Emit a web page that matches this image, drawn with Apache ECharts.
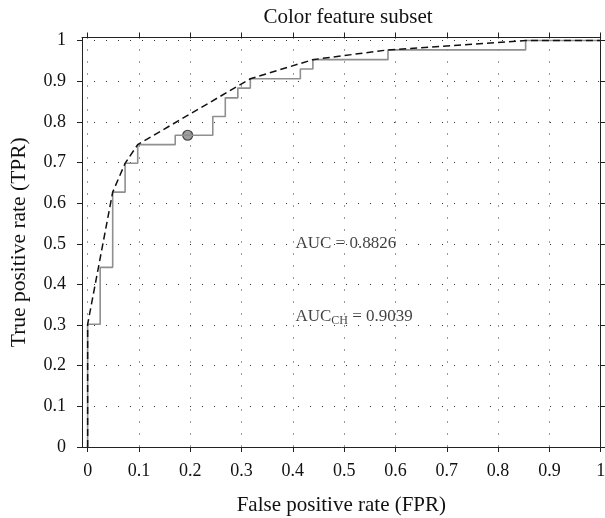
<!DOCTYPE html>
<html>
<head>
<meta charset="utf-8">
<script src="https://cdn.jsdelivr.net/npm/echarts@6/dist/echarts.min.js"></script>
<style>html,body{margin:0;padding:0;background:#fff}#c{width:605px;height:518px}</style>
</head>
<body>
<div id="c"></div>
<script>
// ROC step curve (top corner of each vertical step)
const rocFpr = [0, 0, 0.0244, 0.0488, 0.073, 0.0976, 0.1707, 0.2439, 0.2683, 0.2927, 0.3171, 0.4146, 0.439, 0.5854, 0.8537, 1];
const rocTpr = [0, 0.302, 0.442, 0.627, 0.698, 0.744, 0.767, 0.813, 0.859, 0.883, 0.906, 0.930, 0.953, 0.977, 1, 1];
// Convex hull vertices
const hullFpr = [0, 0, 0.0488, 0.073, 0.0976, 0.3171, 0.439, 0.5854, 0.8537, 1];
const hullTpr = [0, 0.302, 0.627, 0.698, 0.744, 0.906, 0.953, 0.977, 1, 1];
// Operating point
const opPoint = [0.195, 0.767];
// Tick values
const ticks = [0, 0.1, 0.2, 0.3, 0.4, 0.5, 0.6, 0.7, 0.8, 0.9, 1];
// Annotations
const annText = ['AUC = 0.8826', 'AUC_CH = 0.9039'];
const annPos = [[0.405, 0.50], [0.405, 0.322]];

const FONT = 'Liberation Serif';
const fmt = v => (Math.abs(v - 1) < 1e-9 ? '1' : (Math.abs(v) < 1e-9 ? '0' : String(Math.round(v * 10) / 10)));

const chart = echarts.init(document.getElementById('c'), null, {renderer: 'canvas'});

function xAx(pos, show) {
  return {
    type: 'value', position: pos, min: -0.011, max: 1,
    axisLine: {show: true, onZero: false, lineStyle: {color: '#222', width: 1}},
    axisTick: {show: true, inside: false, length: 5, customValues: ticks, lineStyle: {color: '#222'}},
    axisLabel: {show: show, customValues: ticks, formatter: fmt, margin: 15, color: '#111', fontFamily: FONT, fontSize: 18},
    splitLine: {show: show, lineStyle: {color: '#333', type: [1, 11], width: 1}},
    name: show ? 'False positive rate (FPR)' : '', nameLocation: 'middle', nameGap: 48,
    nameTextStyle: {color: '#111', fontFamily: FONT, fontSize: 21}
  };
}
function yAx(pos, show) {
  return {
    type: 'value', position: pos, min: 0, max: 1.0075,
    axisLine: {show: true, onZero: false, lineStyle: {color: '#222', width: 1}},
    axisTick: {show: true, inside: false, length: 5, customValues: ticks, lineStyle: {color: '#222'}},
    axisLabel: {show: show, customValues: ticks, formatter: fmt, margin: 16, color: '#111', fontFamily: FONT, fontSize: 18},
    splitLine: {show: show, lineStyle: {color: '#333', type: [1, 11], width: 1}},
    name: show ? 'True positive rate (TPR)' : '', nameLocation: 'middle', nameGap: 52,
    nameTextStyle: {color: '#111', fontFamily: FONT, fontSize: 21.5}
  };
}

const option = {
  backgroundColor: '#fff',
  animation: false,
  title: {
    text: 'Color feature subset', left: 343, top: 2, textAlign: 'center',
    textStyle: {color: '#111', fontFamily: FONT, fontSize: 21, fontWeight: 'normal'}
  },
  grid: {left: 82, right: 4.3, top: 37.5, bottom: 71, outerBoundsMode: 'none', containLabel: false},
  xAxis: [xAx('bottom', true), xAx('top', false)],
  yAxis: [yAx('left', true), yAx('right', false)],
  series: [
    {
      type: 'line', step: 'end', symbol: 'none', xAxisIndex: 0, yAxisIndex: 0,
      lineStyle: {color: '#8f8f8f', width: 1.6},
      data: rocFpr.map((x, i) => [x, rocTpr[i]])
    },
    {
      type: 'line', symbol: 'none', xAxisIndex: 0, yAxisIndex: 0,
      lineStyle: {color: '#111', width: 1.5, type: [7, 4]},
      data: hullFpr.map((x, i) => [x, hullTpr[i]])
    },
    {
      type: 'scatter', symbol: 'circle', symbolSize: 10,
      itemStyle: {color: '#858585', borderColor: '#222', borderWidth: 1.2},
      data: [opPoint]
    },
    {
      type: 'scatter', symbolSize: 0, silent: true,
      label: {
        show: true, position: 'right', distance: 0, color: '#111',
        fontFamily: FONT, fontSize: 17,
        formatter: p => {
          const t = annText[p.dataIndex];
          if (t.indexOf('_') >= 0) {
            const parts = t.split('_');
            const sub = parts[1].split(' ')[0];
            const rest = parts[1].slice(sub.length);
            return '{a|' + parts[0] + '}{s|' + sub + '}{a|' + rest + '}';
          }
          return '{a|' + t + '}';
        },
        rich: {
          a: {fontFamily: FONT, fontSize: 17, color: '#111'},
          s: {fontFamily: FONT, fontSize: 12, color: '#111', padding: [9, 0, 0, 0]}
        }
      },
      data: annPos
    }
  ]
};
chart.setOption(option);
</script>
</body>
</html>
